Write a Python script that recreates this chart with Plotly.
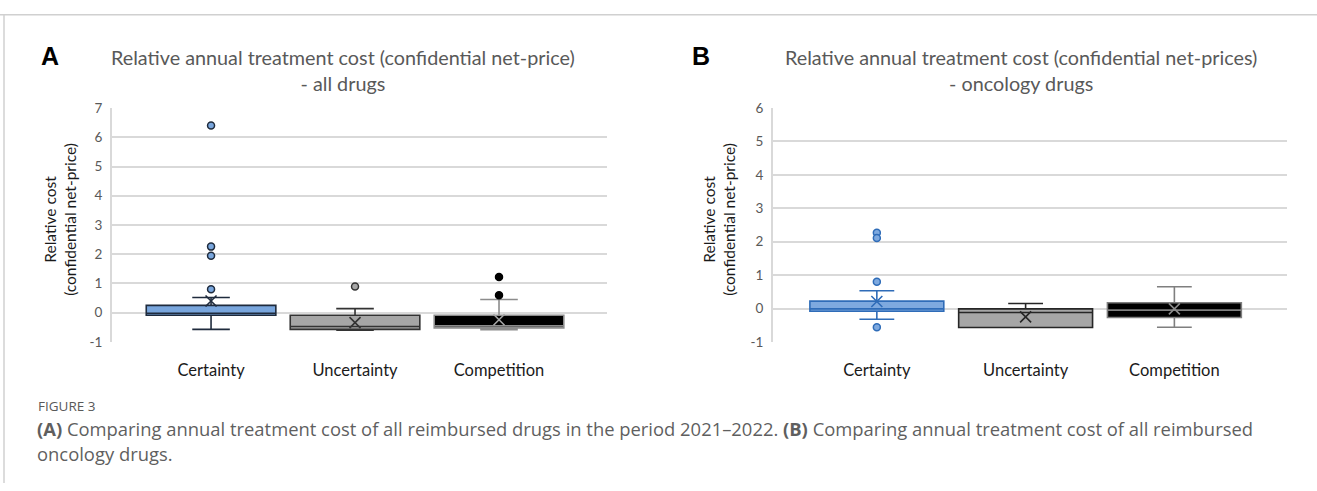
import plotly.graph_objects as go

# ---- data -----------------------------------------------------------------
categories = ["Certainty", "Uncertainty", "Competition"]

# Panel A: all reimbursed drugs
a_lower = [-0.57, -0.60, -0.58]
a_q1 = [-0.09, -0.57, -0.52]
a_median = [-0.02, -0.47, -0.45]
a_q3 = [0.25, -0.09, -0.09]
a_upper = [0.52, 0.14, 0.45]
a_mean = [0.40, -0.34, -0.24]
a_outliers = [[6.40, 2.26, 1.95, 0.80], [0.90], [1.22, 0.60]]

# Panel B: oncology drugs
b_lower = [-0.32, -0.57, -0.56]
b_q1 = [-0.08, -0.57, -0.27]
b_median = [-0.01, -0.12, -0.05]
b_q3 = [0.22, -0.01, 0.17]
b_upper = [0.53, 0.15, 0.65]
b_mean = [0.21, -0.25, -0.01]
b_outliers = [[2.27, 2.11, 0.80, -0.56], [], []]

y_ticks_a = [-1, 0, 1, 2, 3, 4, 5, 6, 7]
y_ticks_b = [-1, 0, 1, 2, 3, 4, 5, 6]

# ---- styles ---------------------------------------------------------------
W, H = 1317, 491
FONT = "Lato, 'Open Sans', sans-serif"
GRID = "#D9D9D9"
TICK_COL = "#595959"

styles_a = [
    dict(fill="#79A6DD", line="#1F2B3D", mean="#1F2B3D", pt_fill="#79A6DD", pt_line="#1F2B3D"),
    dict(fill="#A6A6A6", line="#333333", mean="#333333", pt_fill="#A6A6A6", pt_line="#333333"),
    dict(fill="#000000", line="#8C8C8C", mean="#A6A6A6", pt_fill="#000000", pt_line="#000000"),
]
styles_b = [
    dict(fill="#7EA9DF", line="#2F6CB8", mean="#2F6CB8", pt_fill="#7EA9DF", pt_line="#2F6CB8"),
    dict(fill="#A6A6A6", line="#262626", mean="#262626", pt_fill="#A6A6A6", pt_line="#262626"),
    dict(fill="#000000", line="#7F7F7F", mean="#8C8C8C", pt_fill="#000000", pt_line="#000000"),
]

fig = go.Figure()


def add_panel(xref, yref, lower, q1, med, q3, upper, mean, outliers, styles, whisk):
    for i, cat in enumerate(categories):
        st = styles[i]
        fig.add_trace(go.Box(
            x=[i], q1=[q1[i]], median=[med[i]], q3=[q3[i]],
            lowerfence=[lower[i]], upperfence=[upper[i]],
            name=cat, boxpoints=False, width=0.9, whiskerwidth=whisk,
            fillcolor=st["fill"], line=dict(color=st["line"], width=1.6),
            xaxis=xref, yaxis=yref, showlegend=False, hoverinfo="skip",
        ))
        fig.add_trace(go.Scatter(
            x=[i], y=[mean[i]], mode="markers",
            marker=dict(symbol="x-thin", size=11,
                        line=dict(color=st["mean"], width=1.6)),
            xaxis=xref, yaxis=yref, showlegend=False, hoverinfo="skip",
        ))
        if outliers[i]:
            fig.add_trace(go.Scatter(
                x=[i] * len(outliers[i]), y=outliers[i], mode="markers",
                marker=dict(symbol="circle", size=7, color=st["pt_fill"],
                            line=dict(color=st["pt_line"], width=1.5)),
                xaxis=xref, yaxis=yref, showlegend=False, hoverinfo="skip",
            ))


add_panel("x", "y", a_lower, a_q1, a_median, a_q3, a_upper, a_mean,
          a_outliers, styles_a, 0.29)
add_panel("x2", "y2", b_lower, b_q1, b_median, b_q3, b_upper, b_mean,
          b_outliers, styles_b, 0.26)


def px(v):
    return v / W


def py(v):
    return 1 - v / H


y_dom = [py(345.3), py(103.3)]
xaxis_common = dict(
    tickvals=[0, 1, 2], ticktext=categories, showgrid=False, zeroline=False,
    showline=False, ticks="outside", ticklen=13, tickcolor="rgba(0,0,0,0)",
    tickfont=dict(family=FONT, size=16.5, color="#1A1A1A"), fixedrange=True,
)
yaxis_common = dict(
    showgrid=True, gridcolor=GRID, gridwidth=1.5, zeroline=False,
    showline=True, linecolor=GRID, linewidth=1.5,
    ticks="outside", ticklen=5, tickcolor="rgba(0,0,0,0)",
    tickfont=dict(family=FONT, size=13.5, color=TICK_COL), domain=y_dom,
)

fig.update_layout(
    width=W, height=H, margin=dict(l=0, r=0, t=0, b=0),
    paper_bgcolor="white", plot_bgcolor="white", boxmode="overlay",
    xaxis=dict(domain=[px(111.7), px(607)], range=[-0.69, 2.75], anchor="y",
               **xaxis_common),
    xaxis2=dict(domain=[px(772.7), px(1286.7)], range=[-0.70, 2.755], anchor="y2",
                **xaxis_common),
    yaxis=dict(range=[-1.004, 7.004], tickvals=y_ticks_a,
               ticktext=[str(v) for v in y_ticks_a], anchor="x", **yaxis_common),
    yaxis2=dict(range=[-1.004, 6.004], tickvals=y_ticks_b,
                ticktext=[str(v) for v in y_ticks_b], anchor="x2", **yaxis_common),
)


def note(text, x, y, font, **kw):
    base = dict(text=text, x=px(x), y=py(y), xref="paper", yref="paper",
                showarrow=False, font=font, xanchor="center", yanchor="middle")
    base.update(kw)
    return base


annotations = []
title_font = dict(family=FONT, size=19.8, color="#595959")
annotations.append(note(
    "Relative annual treatment cost (confidential net-price)<br>- all drugs",
    343, 64, title_font, align="center"))
annotations.append(note(
    "Relative annual treatment cost (confidential net-prices)<br>- oncology drugs",
    1021, 64, title_font, align="center"))

letter_font = dict(family="Liberation Sans, Arial, sans-serif", size=25, color="#000000")
annotations.append(note("<b>A</b>", 50, 50, letter_font))
annotations.append(note("<b>B</b>", 701, 50, letter_font))

ytitle_font = dict(family=FONT, size=15.5, color="#1A1A1A")
for xc in (60, 719):
    annotations.append(note("Relative cost<br>(confidential net-price)", xc, 219,
                            ytitle_font, textangle=-90, align="center"))

cap_font = "'Open Sans', sans-serif"
annotations.append(note("FIGURE 3", 36, 411.5,
                        dict(family=cap_font, size=13.5, color="#595959"), xanchor="left"))
annotations.append(note(
    "<b>(A)</b> Comparing annual treatment cost of all reimbursed drugs in the period 2021–2022. "
    "<b>(B)</b> Comparing annual treatment cost of all reimbursed",
    35, 435, dict(family=cap_font, size=18.4, color="#5F5F5F"), xanchor="left"))
annotations.append(note("oncology drugs.", 35, 460,
                        dict(family=cap_font, size=18.4, color="#5F5F5F"), xanchor="left"))

fig.update_layout(annotations=annotations)

# outer frame: top rule and left rule
fig.add_shape(type="line", xref="paper", yref="paper", x0=0, x1=1, y0=py(7), y1=py(7),
              line=dict(color="#D0D0D0", width=1.5))
fig.add_shape(type="line", xref="paper", yref="paper", x0=px(4), x1=px(4), y0=0, y1=py(7),
              line=dict(color="#D0D0D0", width=1.5))

# pin the graph to the top-left corner of the page
pin = (
    "document.documentElement.style.margin='0';"
    "document.body.style.margin='0';"
    "document.documentElement.style.overflow='hidden';"
    "var gd=document.getElementsByClassName('plotly-graph-div')[0];"
    "gd.style.position='fixed';gd.style.left='0px';gd.style.top='0px';"
)
fig.write_html("out.html", post_script=pin)
